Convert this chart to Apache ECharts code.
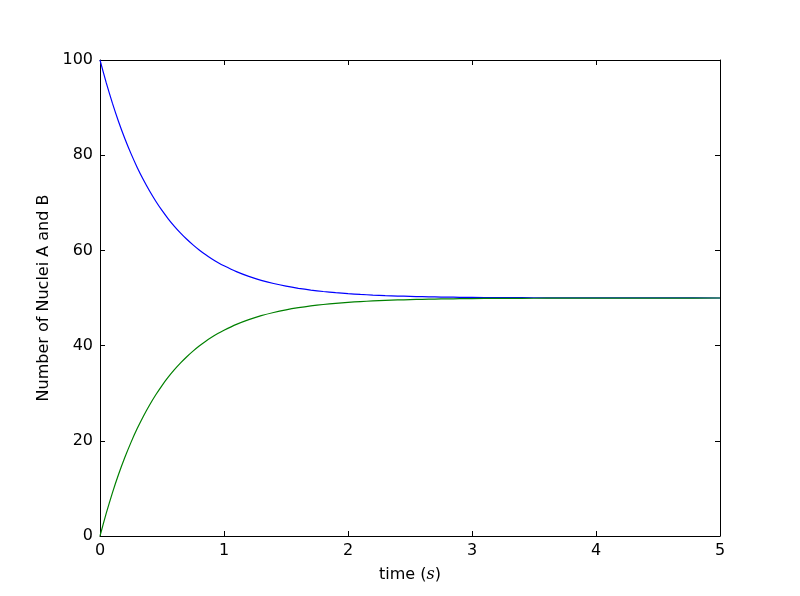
<!DOCTYPE html>
<html><head><meta charset="utf-8">
<script src="https://cdn.jsdelivr.net/npm/echarts@6/dist/echarts.min.js"></script>
<style>html,body{margin:0;padding:0;background:#fff}#c{width:800px;height:596px}</style>
</head><body><div id="c"></div>
<script>
var times = [0,0.05,0.1,0.15,0.2,0.25,0.3,0.35,0.4,0.45,0.5,0.55,0.6,0.65,0.7,0.75,0.8,0.85,0.9,0.95,1.0,1.1,1.2,1.3,1.4,1.5,1.6,1.7,1.8,1.9,2.0,2.1,2.2,2.3,2.4,2.5,2.6,2.7,2.8,2.9,3.0,3.2,3.4,3.6,3.8,4.0,4.3,4.6,5.0];
var nucleiA = [100,95.24,90.94,87.04,83.52,80.33,77.44,74.83,72.47,70.33,68.39,66.64,65.06,63.63,62.33,61.16,60.09,59.13,58.27,57.48,56.77,55.54,54.54,53.71,53.04,52.49,52.04,51.67,51.37,51.12,50.92,50.75,50.61,50.50,50.41,50.34,50.28,50.23,50.18,50.15,50.12,50.08,50.06,50.04,50.03,50.02,50.01,50.01,50.00];
var nucleiB = [0,4.76,9.06,12.96,16.48,19.67,22.56,25.17,27.53,29.67,31.61,33.36,34.94,36.37,37.67,38.84,39.91,40.87,41.73,42.52,43.23,44.46,45.46,46.29,46.96,47.51,47.96,48.33,48.63,48.88,49.08,49.25,49.39,49.50,49.59,49.66,49.72,49.77,49.82,49.85,49.88,49.92,49.94,49.96,49.97,49.98,49.99,49.99,50.00];
var xTicks = [0,1,2,3,4,5];
var yTicks = [0,20,40,60,80,100];

function pairs(ys){ return times.map(function(t,i){ return [t, ys[i]]; }); }
var font = 'DejaVu Sans';
var tick = {show:true, inside:true, length:5, lineStyle:{color:'#000', width:1}};
var line = {show:true, onZero:false, lineStyle:{color:'#000', width:1}};
var chart = echarts.init(document.getElementById('c'), null, {renderer:'canvas'});
chart.setOption({
  animation:false,
  backgroundColor:'#fff',
  grid:{left:100, right:80, top:60, bottom:60, containLabel:false},
  xAxis:[{
    type:'value', position:'bottom', min:xTicks[0], max:xTicks[xTicks.length-1], interval:1,
    axisLine:line, axisTick:tick, splitLine:{show:false},
    axisLabel:{color:'#000', fontFamily:font, fontSize:16, margin:7},
    name:'{a|time (}{b|s}{a|)}', nameLocation:'middle', nameGap:31,
    nameTextStyle:{rich:{a:{fontFamily:font, fontSize:16, color:'#000'}, b:{fontFamily:'DejaVu Serif', fontStyle:'italic', fontSize:16, color:'#000'}}}
  },{
    type:'value', position:'top', min:xTicks[0], max:xTicks[xTicks.length-1], interval:1,
    axisLine:line, axisTick:tick, axisLabel:{show:false}, splitLine:{show:false}
  }],
  yAxis:[{
    type:'value', position:'left', min:yTicks[0], max:yTicks[yTicks.length-1], interval:20,
    axisLine:line, axisTick:tick, splitLine:{show:false},
    axisLabel:{color:'#000', fontFamily:font, fontSize:16, margin:7},
    name:'Number of Nuclei A and B', nameLocation:'middle', nameGap:46,
    nameTextStyle:{fontFamily:font, fontSize:16, color:'#000'}
  },{
    type:'value', position:'right', min:yTicks[0], max:yTicks[yTicks.length-1], interval:20,
    axisLine:line, axisTick:tick, axisLabel:{show:false}, splitLine:{show:false}
  }],
  series:[
    {type:'line', data:pairs(nucleiA), showSymbol:false, smooth:0.2, lineStyle:{color:'#0000ff', width:1.2}, itemStyle:{color:'#0000ff'}},
    {type:'line', data:pairs(nucleiB), showSymbol:false, smooth:0.2, lineStyle:{color:'#008000', width:1.2}, itemStyle:{color:'#008000'}}
  ]
});
</script></body></html>
